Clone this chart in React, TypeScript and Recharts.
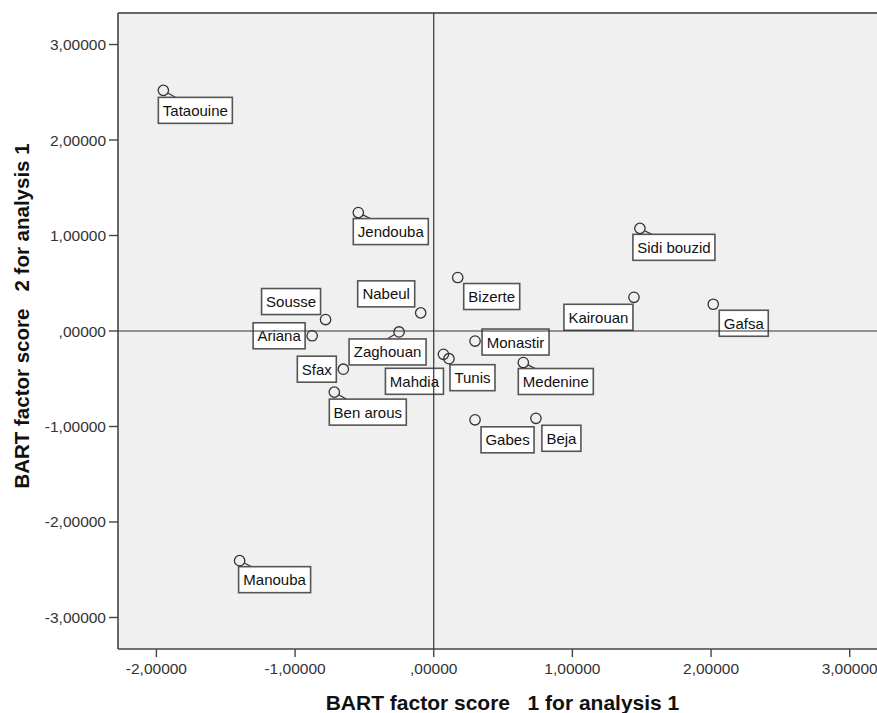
import { ScatterChart, Scatter, XAxis, YAxis, CartesianGrid, ReferenceLine, Label } from 'recharts'

// governorates and their two BART factor scores
const GOVERNORATES = [
  'Tataouine', 'Jendouba', 'Nabeul', 'Sousse', 'Ariana', 'Zaghouan', 'Sfax', 'Ben arous', 'Mahdia', 'Tunis',
  'Gabes', 'Beja', 'Monastir', 'Bizerte', 'Medenine', 'Kairouan', 'Sidi bouzid', 'Gafsa', 'Manouba',
]
const FACTOR_1 = [
  -1.95, -0.544, -0.094, -0.78, -0.877, -0.25, -0.652, -0.717, 0.07, 0.11,
  0.298, 0.737, 0.298, 0.173, 0.646, 1.444, 1.487, 2.016, -1.4,
]
const FACTOR_2 = [
  2.52, 1.24, 0.19, 0.12, -0.05, -0.01, -0.4, -0.64, -0.244, -0.29,
  -0.93, -0.914, -0.105, 0.56, -0.33, 0.353, 1.075, 0.28, -2.405,
]

const X_TICKS = [-2, -1, 0, 1, 2, 3]
const Y_TICKS = [-3, -2, -1, 0, 1, 2, 3]
const X_DOMAIN = [-2.277, 3.269]
const Y_DOMAIN = [-3.33, 3.33]

const X_TITLE = 'BART factor score\u00A0\u00A0\u00A01 for analysis 1'
const Y_TITLE = 'BART factor score\u00A0\u00A0\u00A02 for analysis 1'

// where each label box sits relative to its point (box edge offset, box top offset)
const LABEL_PLACEMENT: Record<string, { side: 'left' | 'right'; dx: number; dy: number }> = {
  'Tataouine': { side: 'left', dx: -5, dy: 7 },
  'Jendouba': { side: 'left', dx: -5, dy: 6 },
  'Nabeul': { side: 'right', dx: -6, dy: -32 },
  'Sousse': { side: 'right', dx: -5, dy: -31 },
  'Ariana': { side: 'right', dx: -7, dy: -13 },
  'Zaghouan': { side: 'left', dx: -50, dy: 7 },
  'Sfax': { side: 'right', dx: -7, dy: -13 },
  'Ben arous': { side: 'left', dx: -5, dy: 7 },
  'Mahdia': { side: 'right', dx: 0, dy: 14 },
  'Tunis': { side: 'left', dx: 1, dy: 6 },
  'Gabes': { side: 'left', dx: 6, dy: 7 },
  'Beja': { side: 'left', dx: 6, dy: 7 },
  'Monastir': { side: 'left', dx: 7, dy: -12 },
  'Bizerte': { side: 'left', dx: 6, dy: 6 },
  'Medenine': { side: 'left', dx: -5, dy: 6 },
  'Kairouan': { side: 'right', dx: -1, dy: 7 },
  'Sidi bouzid': { side: 'left', dx: -7, dy: 6 },
  'Gafsa': { side: 'left', dx: 6, dy: 6 },
  'Manouba': { side: 'left', dx: -1, dy: 6 },
}

const FONT = '"Liberation Sans", Arial, sans-serif'
const LABEL_SIZE = 15

const data = GOVERNORATES.map((name, i) => ({ name, x: FACTOR_1[i], y: FACTOR_2[i] }))

// the two zero lines, drawn as series so they sit on top of the label boxes
const zeroH = [{ x: X_DOMAIN[0], y: 0 }, { x: X_DOMAIN[1], y: 0 }]
const zeroV = [{ x: 0, y: Y_DOMAIN[0] }, { x: 0, y: Y_DOMAIN[1] }]

let measureCtx: CanvasRenderingContext2D | null = null
function textWidth(s: string) {
  if (!measureCtx && typeof document !== 'undefined') {
    measureCtx = document.createElement('canvas').getContext('2d')
  }
  if (measureCtx) {
    measureCtx.font = `${LABEL_SIZE}px ${FONT}`
    return measureCtx.measureText(s).width
  }
  return s.length * 7.4
}

// SPSS-style numbers: 1,00000  -2,00000  ,00000
const spssNumber = (v: number) => {
  const s = v.toFixed(5).replace('.', ',')
  return s.startsWith('0,') ? s.slice(1) : s
}

function LabeledPoint(props: any) {
  const { cx, cy, payload } = props
  if (cx == null || cy == null) return null
  const r = 5.2
  const place = LABEL_PLACEMENT[payload.name] ?? { side: 'left', dx: 6, dy: 6 }
  const w = Math.round(textWidth(payload.name) + 9)
  const h = 26
  const left = place.side === 'left' ? cx + place.dx : cx + place.dx - w
  const top = cy + place.dy

  let leader = null
  if (place.dy > 0 && left < cx && left + w > cx) {
    const dir = left + w / 2 >= cx ? 1 : -1
    const tx = cx + dir * 12
    const ty = top
    const len = Math.hypot(tx - cx, ty - cy)
    leader = (
      <line
        x1={cx + ((tx - cx) / len) * r}
        y1={cy + ((ty - cy) / len) * r}
        x2={tx}
        y2={ty}
        stroke="#333"
        strokeWidth={1.2}
      />
    )
  }

  return (
    <g>
      {leader}
      <rect x={left} y={top} width={w} height={h} fill="#ffffff" stroke="#555" strokeWidth={1.6} />
      <text
        x={left + w / 2}
        y={top + h / 2}
        textAnchor="middle"
        dominantBaseline="central"
        fontFamily={FONT}
        fontSize={LABEL_SIZE}
        fill="#111"
      >
        {payload.name}
      </text>
      <circle cx={cx} cy={cy} r={r} fill="none" stroke="#333" strokeWidth={1.3} />
    </g>
  )
}

const NoMark = () => <g />

function YTitle(props: any) {
  const vb = props.viewBox || {}
  const x = 21
  const y = (vb.y ?? 13) + (vb.height ?? 636) / 2 - 15
  return (
    <text
      x={x}
      y={y}
      transform={`rotate(-90 ${x} ${y})`}
      textAnchor="middle"
      dominantBaseline="central"
      fontFamily={FONT}
      fontSize={20.5}
      fontWeight="bold"
      fill="#111"
    >
      {Y_TITLE}
    </text>
  )
}

export default function App() {
  const tickStyle = { fontFamily: FONT, fontSize: 15.5, fill: '#333' }
  return (
    <div style={{ position: 'fixed', left: 0, top: 0, width: 877, height: 713, overflow: 'hidden', background: '#fff' }}>
      <ScatterChart width={900} height={713} margin={{ top: 13, right: 13, bottom: 0, left: 0 }}>
        <CartesianGrid horizontal={false} vertical={false} fill="#F0F0F0" stroke="none" />
        <XAxis
          type="number"
          dataKey="x"
          domain={X_DOMAIN}
          ticks={X_TICKS}
          tickFormatter={spssNumber}
          allowDataOverflow
          height={64}
          tickSize={8}
          tickMargin={6}
          tick={tickStyle}
          axisLine={{ stroke: '#444', strokeWidth: 1.6 }}
          tickLine={{ stroke: '#444', strokeWidth: 1.4 }}
        >
          <Label
            value={X_TITLE}
            position="insideBottom"
            offset={3}
            style={{ fontFamily: FONT, fontSize: 21, fontWeight: 'bold', fill: '#111' }}
          />
        </XAxis>
        <YAxis
          type="number"
          dataKey="y"
          domain={Y_DOMAIN}
          ticks={Y_TICKS}
          tickFormatter={spssNumber}
          allowDataOverflow
          width={118}
          tickSize={9}
          tickMargin={3}
          tick={tickStyle}
          axisLine={{ stroke: '#444', strokeWidth: 1.6 }}
          tickLine={{ stroke: '#444', strokeWidth: 1.4 }}
        >
          <Label content={YTitle} />
        </YAxis>
        <ReferenceLine y={Y_DOMAIN[1]} stroke="#666" strokeWidth={2} />
        <Scatter data={data} shape={LabeledPoint} isAnimationActive={false} />
        <Scatter data={zeroH} shape={NoMark} line={{ stroke: '#333', strokeWidth: 1.2 }} isAnimationActive={false} />
        <Scatter data={zeroV} shape={NoMark} line={{ stroke: '#333', strokeWidth: 1.2 }} isAnimationActive={false} />
      </ScatterChart>
    </div>
  )
}
